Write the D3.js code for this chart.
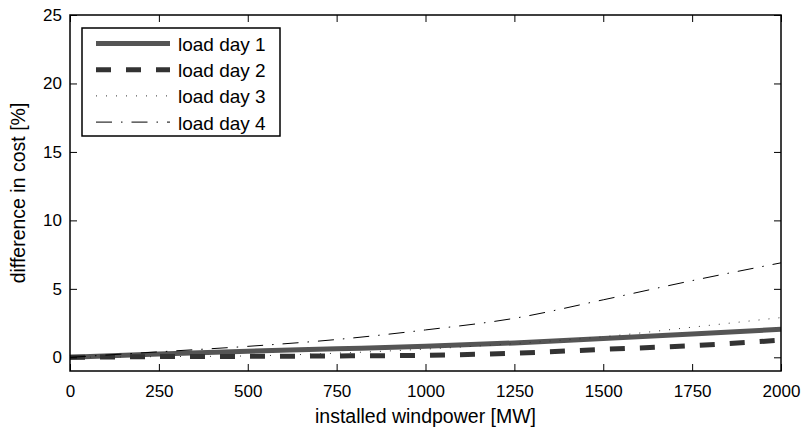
<!DOCTYPE html>
<html>
<head>
<meta charset="utf-8">
<script src="https://d3js.org/d3.v7.min.js"></script>
<style>
  body { margin: 0; background: #fff; }
  text { font-family: "Liberation Sans", Arial, sans-serif; }
</style>
</head>
<body>
<div id="chart"></div>
<script>
// installed windpower [MW]
const windpower = [0, 250, 500, 750, 1000, 1250, 1500, 1750, 2000];
// difference in cost [%]
const loadDay1 = [0, 0.25, 0.45, 0.62, 0.8, 1.05, 1.37, 1.7, 2.05];
const loadDay2 = [0, 0.05, 0.07, 0.1, 0.15, 0.3, 0.58, 0.85, 1.25];
const loadDay3 = [0, 0.05, 0.1, 0.3, 0.6, 1.0, 1.5, 2.2, 2.9];
const loadDay4 = [0, 0.4, 0.8, 1.3, 2.0, 2.85, 4.2, 5.6, 6.9];
const seriesNames = ["load day 1", "load day 2", "load day 3", "load day 4"];
const xTicks = [0, 250, 500, 750, 1000, 1250, 1500, 1750, 2000];
const yTicks = [0, 5, 10, 15, 20, 25];

const width = 807, height = 431;
const margin = { top: 15, right: 26, bottom: 60, left: 70 };

const svg = d3.select("#chart").append("svg")
    .attr("width", width)
    .attr("height", height);

const x = d3.scaleLinear().domain([0, 2000]).range([margin.left, width - margin.right]);
const y = d3.scaleLinear().domain([-1, 25]).range([height - margin.bottom, margin.top]);

// estilos de cada serie
const styles = [
    { stroke: "#555", width: 5, dash: null },
    { stroke: "#333", width: 5, dash: "15,15" },
    { stroke: "#333", width: 1, dash: "1,9" },
    { stroke: "#000", width: 1, dash: "16,9,1.5,9" }
];

const values = [loadDay1, loadDay2, loadDay3, loadDay4];

const line = d3.line()
    .x(d => x(d[0]))
    .y(d => y(d[1]))
    .curve(d3.curveMonotoneX);

const plot = svg.append("g");
values.forEach((vals, i) => {
    plot.append("path")
        .datum(windpower.map((w, j) => [w, vals[j]]))
        .attr("fill", "none")
        .attr("stroke", styles[i].stroke)
        .attr("stroke-width", styles[i].width)
        .attr("stroke-dasharray", styles[i].dash)
        .attr("d", line);
});

// ejes con ticks hacia dentro
const tickLen = 7;
const fontSize = 17;
const fmt = d3.format("d");

const axBottom = svg.append("g")
    .attr("transform", `translate(0,${y(-1)})`)
    .call(d3.axisBottom(x).tickValues(xTicks).tickFormat(fmt).tickSizeInner(-tickLen).tickSizeOuter(0).tickPadding(14));
const axTop = svg.append("g")
    .attr("transform", `translate(0,${y(25)})`)
    .call(d3.axisTop(x).tickValues(xTicks).tickSizeInner(-tickLen).tickSizeOuter(0).tickFormat(""));
const axLeft = svg.append("g")
    .attr("transform", `translate(${x(0)},0)`)
    .call(d3.axisLeft(y).tickValues(yTicks).tickFormat(fmt).tickSizeInner(-tickLen).tickSizeOuter(0).tickPadding(8));
const axRight = svg.append("g")
    .attr("transform", `translate(${x(2000)},0)`)
    .call(d3.axisRight(y).tickValues(yTicks).tickSizeInner(-tickLen).tickSizeOuter(0).tickFormat(""));

[axBottom, axTop, axLeft, axRight].forEach(g => {
    g.select(".domain").remove();
    g.selectAll(".tick line").attr("stroke", "#000");
    g.selectAll(".tick text")
        .attr("font-size", fontSize)
        .attr("font-family", "Liberation Sans, Arial, sans-serif")
        .attr("fill", "#000");
});

svg.append("rect")
    .attr("x", x(0))
    .attr("y", y(25))
    .attr("width", x(2000) - x(0))
    .attr("height", y(-1) - y(25))
    .attr("fill", "none")
    .attr("stroke", "#000")
    .attr("stroke-width", 1.5);

// etiquetas de ejes
svg.append("text")
    .attr("x", (x(0) + x(2000)) / 2)
    .attr("y", 423)
    .attr("text-anchor", "middle")
    .attr("font-size", 19.5)
    .text("installed windpower [MW]");

svg.append("text")
    .attr("transform", `translate(25,${(y(-1) + y(25)) / 2}) rotate(-90)`)
    .attr("text-anchor", "middle")
    .attr("font-size", 19.5)
    .text("difference in cost [%]");

// leyenda
const legend = svg.append("g").attr("transform", "translate(82,28)");
legend.append("rect")
    .attr("width", 198)
    .attr("height", 108)
    .attr("fill", "#fff")
    .attr("stroke", "#000")
    .attr("stroke-width", 1.5);

seriesNames.forEach((name, i) => {
    const ly = 15.5 + i * 26.2;
    legend.append("line")
        .attr("x1", 14).attr("x2", 88)
        .attr("y1", ly).attr("y2", ly)
        .attr("stroke", styles[i].stroke)
        .attr("stroke-width", styles[i].width)
        .attr("stroke-dasharray", styles[i].dash);
    legend.append("text")
        .attr("x", 96)
        .attr("y", ly + 7.5)
        .attr("font-size", 19)
        .text(name);
});
</script>
</body>
</html>
